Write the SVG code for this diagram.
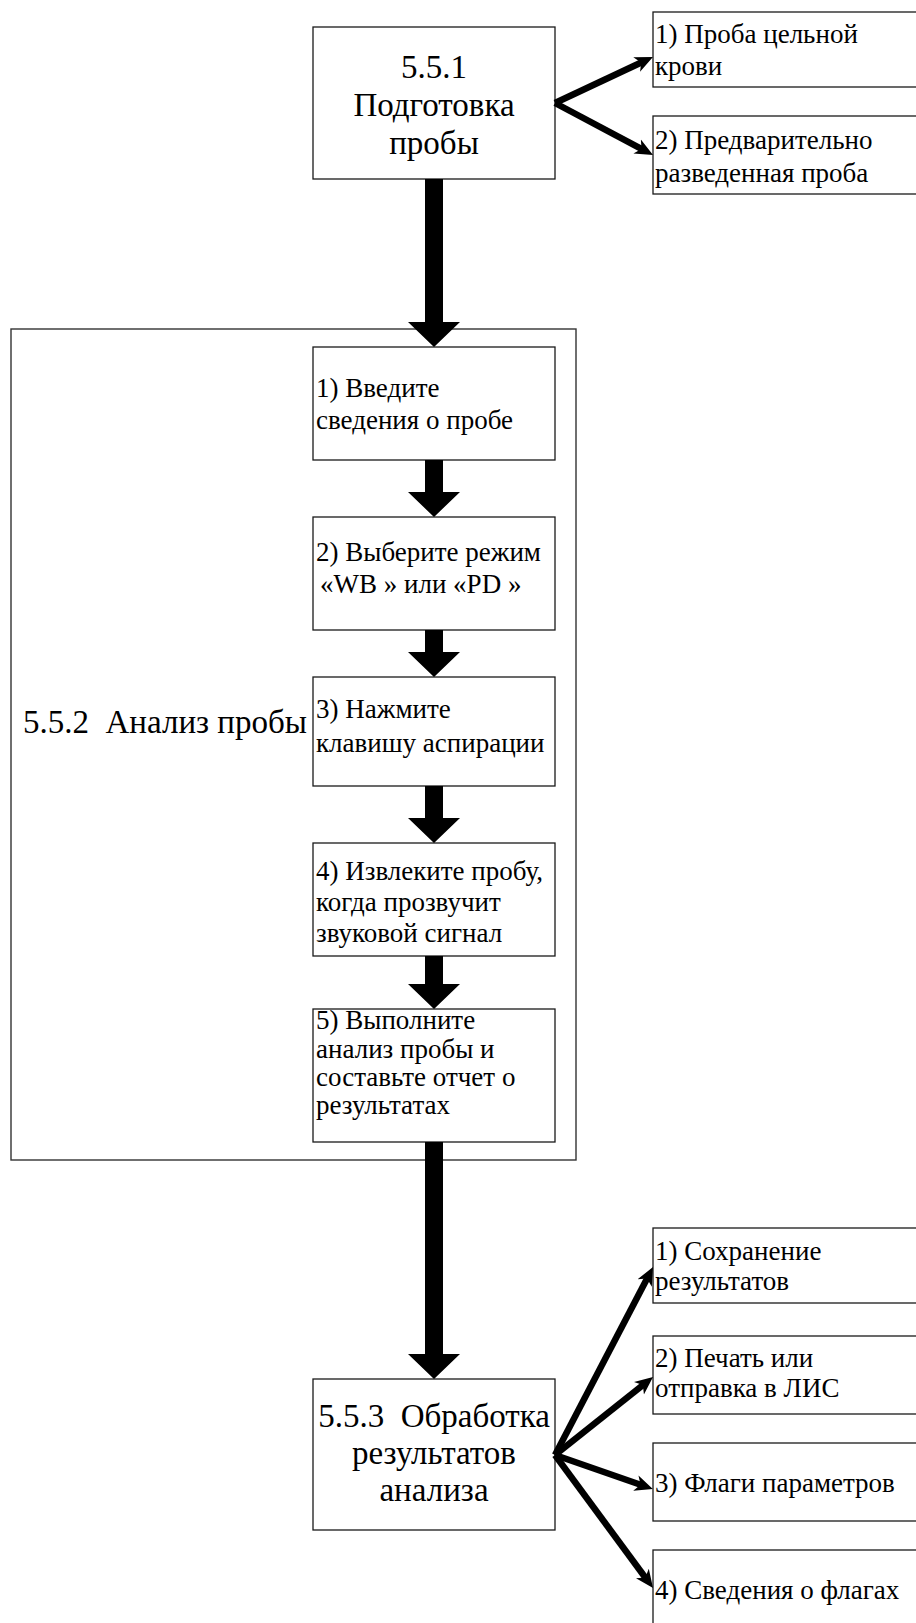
<svg xmlns="http://www.w3.org/2000/svg" width="916" height="1623" viewBox="0 0 916 1623">
<style>
.box{fill:#fff;stroke:#1a1a1a;stroke-width:1.3}
.frame{fill:none;stroke:#333;stroke-width:1.4}
.big{font-family:"Liberation Serif","Times New Roman",serif;font-size:33px;fill:#000;text-anchor:middle}
.lbl{font-family:"Liberation Serif","Times New Roman",serif;font-size:33px;fill:#000}
.sm{font-family:"Liberation Serif","Times New Roman",serif;font-size:27px;fill:#000}
.thick{fill:#000;stroke:none}
.thin{stroke:#000;stroke-width:6.5;fill:none;marker-end:url(#ah)}
</style>
<defs>
<marker id="ah" markerUnits="userSpaceOnUse" markerWidth="20" markerHeight="18" viewBox="0 -9 20 18" refX="8" refY="0" orient="auto">
<path d="M0,-8 L18,0 L0,8 L5,0 Z" fill="#000"/>
</marker>
</defs>

<g id="container-552">
<rect class="frame" x="11" y="329" width="565" height="831"/>
<text class="lbl" x="23" y="733" xml:space="preserve">5.5.2  Анализ пробы</text>
</g>

<g id="node-551">
<rect class="box" x="313" y="27" width="242" height="152"/>
<text class="big" x="434" y="78">5.5.1</text>
<text class="big" x="434" y="116">Подготовка</text>
<text class="big" x="434" y="154">пробы</text>
</g>

<g id="node-r1">
<rect class="box" x="653" y="12" width="280" height="75"/>
<text class="sm" x="655" y="43">1) Проба цельной</text>
<text class="sm" x="655" y="75">крови</text>
</g>
<g id="node-r2">
<rect class="box" x="653" y="116" width="280" height="78"/>
<text class="sm" x="655" y="149">2) Предварительно</text>
<text class="sm" x="655" y="182">разведенная проба</text>
</g>

<g id="step1">
<rect class="box" x="313" y="347" width="242" height="113"/>
<text class="sm" x="316" y="397">1) Введите</text>
<text class="sm" x="316" y="429">сведения о пробе</text>
</g>
<g id="step2">
<rect class="box" x="313" y="517" width="242" height="113"/>
<text class="sm" x="316" y="561">2) Выберите режим</text>
<text class="sm" x="320" y="593">«WB » или «PD »</text>
</g>
<g id="step3">
<rect class="box" x="313" y="677" width="242" height="109"/>
<text class="sm" x="316" y="718">3) Нажмите</text>
<text class="sm" x="316" y="752">клавишу аспирации</text>
</g>
<g id="step4">
<rect class="box" x="313" y="843" width="242" height="113"/>
<text class="sm" x="316" y="880">4) Извлеките пробу,</text>
<text class="sm" x="316" y="911">когда прозвучит</text>
<text class="sm" x="316" y="942">звуковой сигнал</text>
</g>
<g id="step5">
<rect class="box" x="313" y="1009" width="242" height="133"/>
<text class="sm" x="316" y="1029">5) Выполните</text>
<text class="sm" x="316" y="1058">анализ пробы и</text>
<text class="sm" x="316" y="1086">составьте отчет о</text>
<text class="sm" x="316" y="1114">результатах</text>
</g>

<g id="node-553">
<rect class="box" x="313" y="1379" width="242" height="151"/>
<text class="big" x="434" y="1427" xml:space="preserve">5.5.3  Обработка</text>
<text class="big" x="434" y="1464">результатов</text>
<text class="big" x="434" y="1501">анализа</text>
</g>

<g id="node-b1">
<rect class="box" x="653" y="1228" width="280" height="75"/>
<text class="sm" x="655" y="1260">1) Сохранение</text>
<text class="sm" x="655" y="1290">результатов</text>
</g>
<g id="node-b2">
<rect class="box" x="653" y="1336" width="280" height="78"/>
<text class="sm" x="655" y="1367">2) Печать или</text>
<text class="sm" x="655" y="1397">отправка в ЛИС</text>
</g>
<g id="node-b3">
<rect class="box" x="653" y="1443" width="280" height="78"/>
<text class="sm" x="655" y="1492">3) Флаги параметров</text>
</g>
<g id="node-b4">
<rect class="box" x="653" y="1550" width="280" height="90"/>
<text class="sm" x="655" y="1599">4) Сведения о флагах</text>
</g>

<g id="connectors">
<polygon class="thick" points="425,179 443,179 443,322 460,322 434,347 408,322 425,322"/>
<polygon class="thick" points="425,460 443,460 443,492 460,492 434,517 408,492 425,492"/>
<polygon class="thick" points="425,630 443,630 443,652 460,652 434,677 408,652 425,652"/>
<polygon class="thick" points="425,786 443,786 443,818 460,818 434,843 408,818 425,818"/>
<polygon class="thick" points="425,956 443,956 443,984 460,984 434,1009 408,984 425,984"/>
<polygon class="thick" points="425,1142 443,1142 443,1354 460,1354 434,1379 408,1354 425,1354"/>
<line class="thin" x1="555" y1="103" x2="643.9" y2="61.2"/>
<line class="thin" x1="555" y1="103" x2="644.2" y2="150.3"/>
<line class="thin" x1="555" y1="1455" x2="648.4" y2="1275.9"/>
<line class="thin" x1="555" y1="1455" x2="645.2" y2="1383.2"/>
<line class="thin" x1="555" y1="1455" x2="643.4" y2="1485.7"/>
<line class="thin" x1="555" y1="1455" x2="647.1" y2="1580"/>
</g>
</svg>
